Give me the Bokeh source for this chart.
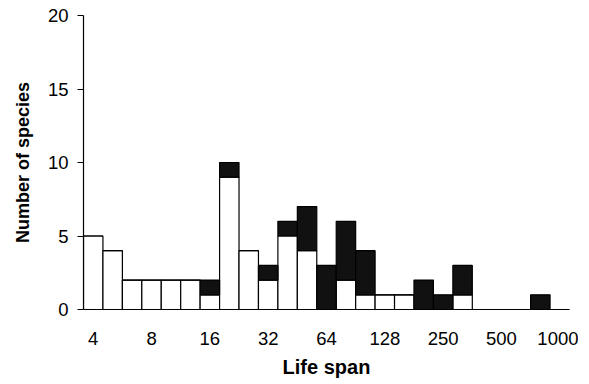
from bokeh.plotting import figure
from bokeh.models import ColumnDataSource, FixedTicker, Range1d
from bokeh.embed import file_html
from bokeh.resources import INLINE

# Life span bins: 3 bins per doubling, from 4 to ~1000
bins = list(range(1, 26))
white_counts = [5, 4, 2, 2, 2, 2, 1, 9, 4, 2, 5, 4, 0, 2, 1, 1, 1, 0, 0, 1, 0, 0, 0, 0, 0]
black_counts = [0, 0, 0, 0, 0, 0, 1, 1, 0, 1, 1, 3, 3, 4, 3, 0, 0, 2, 1, 2, 0, 0, 0, 1, 0]
tick_positions = [1, 4, 7, 10, 13, 16, 19, 22, 25]
tick_labels = ["4", "8", "16", "32", "64", "128", "250", "500", "1000"]
y_ticks = [0, 5, 10, 15, 20]
x_title = "Life span"
y_title = "Number of species"

source = ColumnDataSource(dict(x=bins, white=white_counts, black=black_counts))

p = figure(width=578, height=382, output_backend="svg", toolbar_location=None,
           x_range=Range1d(0.5, 25.5), y_range=Range1d(0, 20),
           min_border_left=83, min_border_right=9, min_border_top=15, min_border_bottom=73)

p.vbar_stack(["white", "black"], x="x", width=1.0, source=source,
             fill_color=["white", "#111111"], line_color="black", line_width=1.2)

p.outline_line_color = None
p.xgrid.visible = False
p.ygrid.visible = False
p.background_fill_color = "white"
p.border_fill_color = "white"

font = "Liberation Sans"

p.xaxis.ticker = FixedTicker(ticks=tick_positions)
p.xaxis.major_label_overrides = {t: l for t, l in zip(tick_positions, tick_labels)}
p.xaxis.major_tick_out = 0
p.xaxis.major_tick_in = 0
p.xaxis.minor_tick_out = 0
p.xaxis.minor_tick_in = 0
p.xaxis.major_label_standoff = 22
p.xaxis.axis_label = x_title
p.xaxis.axis_label_standoff = 8
p.xaxis.axis_label_text_font_size = "20px"

p.yaxis.ticker = FixedTicker(ticks=y_ticks)
p.yaxis.major_tick_out = 6
p.yaxis.major_tick_in = 0
p.yaxis.minor_tick_out = 0
p.yaxis.minor_tick_in = 0
p.yaxis.major_label_standoff = 9
p.yaxis.axis_label = y_title
p.yaxis.axis_label_standoff = 12
p.yaxis.axis_label_text_font_size = "18px"

for ax in (p.xaxis, p.yaxis):
    ax.axis_line_color = "black"
    ax.axis_line_width = 1.2
    ax.major_tick_line_color = "black"
    ax.major_tick_line_width = 1.2
    ax.major_label_text_font = font
    ax.major_label_text_font_size = "18.5px"
    ax.major_label_text_color = "black"
    ax.axis_label_text_font = font
    ax.axis_label_text_font_style = "bold"
    ax.axis_label_text_color = "black"

open("out.html", "w").write(file_html(p, INLINE))
